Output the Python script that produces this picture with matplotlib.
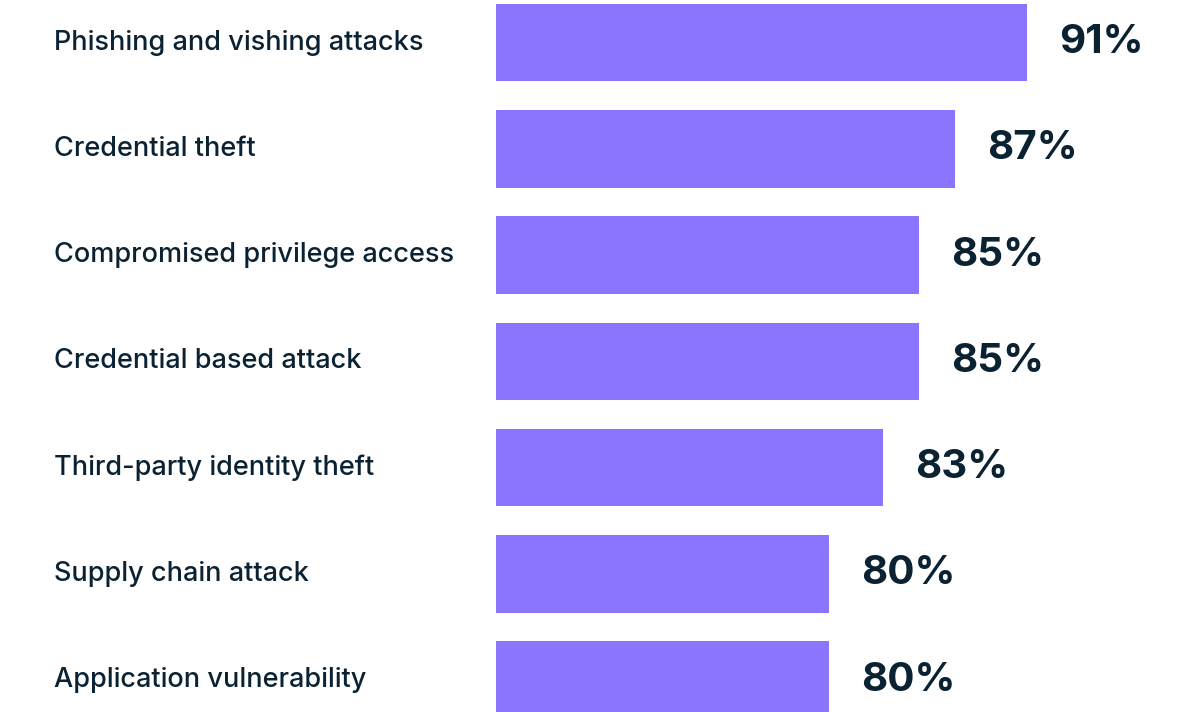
import matplotlib
matplotlib.use("Agg")
import matplotlib.pyplot as plt
from matplotlib.transforms import blended_transform_factory

categories = [
    "Phishing and vishing attacks",
    "Credential theft",
    "Compromised privilege access",
    "Credential based attack",
    "Third-party identity theft",
    "Supply chain attack",
    "Application vulnerability",
]
values = [91, 87, 85, 85, 83, 80, 80]

bar_color = "#8B75FF"
text_color = "#0B2233"

plt.rcParams["font.family"] = ["Inter", "DejaVu Sans"]

fig = plt.figure(figsize=(11.82, 7.12), dpi=100)
fig.patch.set_facecolor("white")
ax = fig.add_axes([496 / 1182, 0, 1 - 496 / 1182, 1])

positions = list(range(len(categories)))
ax.barh(positions, values, height=0.73, color=bar_color, left=0)

ax.set_xlim(61.5, 61.5 + 686 / 18)
ax.set_ylim(6.30, -0.40)
ax.axis("off")

for y, v in zip(positions, values):
    ax.annotate(f"{v}%", xy=(v, y), xytext=(32, 0), textcoords="offset pixels",
                ha="left", va="center", fontsize=29, fontweight="bold",
                color=text_color)

label_tf = blended_transform_factory(fig.transFigure, ax.transData)
for y, name in zip(positions, categories):
    fig.text(54 / 1182, y, name, transform=label_tf, ha="left", va="center",
             fontsize=19.5, fontweight="medium", color=text_color)

fig.savefig("out.png", dpi=100, facecolor="white")
